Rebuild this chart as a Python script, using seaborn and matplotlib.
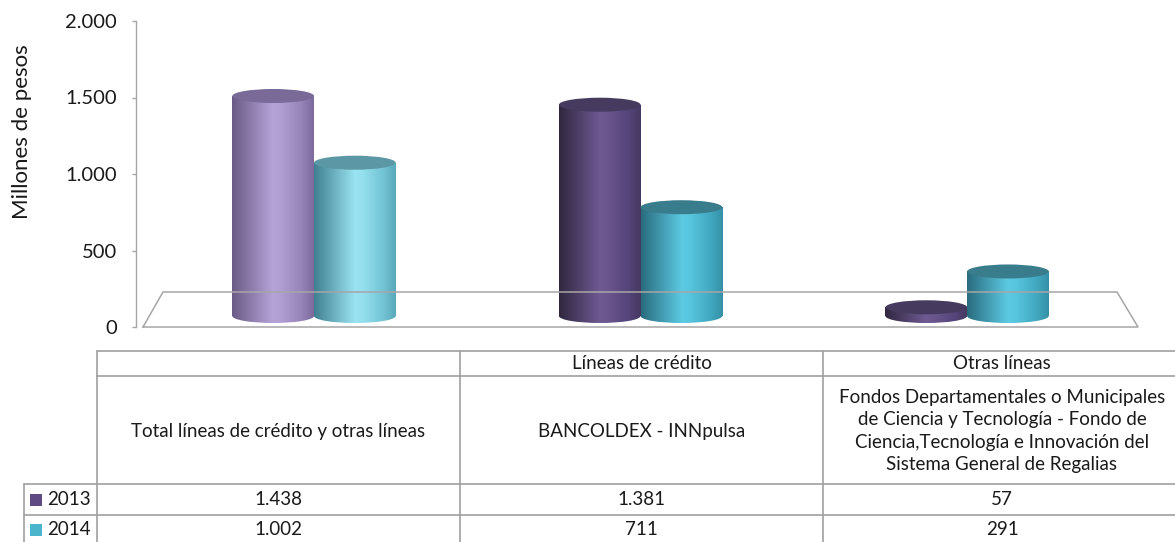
import numpy as np
import pandas as pd
import matplotlib
matplotlib.use("Agg")
import matplotlib.pyplot as plt
import matplotlib.colors as mcolors
import seaborn as sns
from matplotlib.patches import Rectangle, Ellipse
from matplotlib.lines import Line2D

# ---------------- data ----------------
categories = [
    "Total líneas de crédito y otras líneas",
    "BANCOLDEX - INNpulsa",
    "Fondos Departamentales o Municipales\nde Ciencia y Tecnología - Fondo de\nCiencia,Tecnología e Innovación del\nSistema General de Regalias",
]
groups = ["", "Líneas de crédito", "Otras líneas"]
years = ["2013", "2014"]
values_2013 = [1438, 1381, 57]
values_2014 = [1002, 711, 291]
yticks = [0, 500, 1000, 1500, 2000]
ylabel = "Millones de pesos"


def fmt(v):
    return f"{v:,}".replace(",", ".")


df = pd.DataFrame({
    "cat": list(range(len(categories))) * 2,
    "year": [years[0]] * 3 + [years[1]] * 3,
    "val": values_2013 + values_2014,
})

# ---------------- style ----------------
sns.set_theme(style="white")
plt.rcParams["font.family"] = ["Lato", "DejaVu Sans"]

W, H = 1175, 542
fig = plt.figure(figsize=(W / 100, H / 100), dpi=100)
fig.patch.set_facecolor("white")


def fx(x):
    return x / W


def fy(y):
    return 1 - y / H


GRAY = "#a6a6a6"
TXT = "#1a1a1a"
TFS = 13.5

# front axes (value axis)
axA = fig.add_axes([fx(136), fy(327), (1138 - 136) / W, 306 / H])
axA.set_ylim(0, 2000)
axA.set_xlim(0, 1)
axA.set_yticks(yticks)
axA.set_yticklabels([fmt(v) for v in yticks], fontsize=14.5, color=TXT)
axA.set_xticks([])
axA.tick_params(axis="y", length=3, width=1, color=GRAY, pad=10.5, left=True)
for s in ["top", "right", "bottom"]:
    axA.spines[s].set_visible(False)
axA.spines["left"].set_color(GRAY)
axA.spines["left"].set_linewidth(1)
axA.patch.set_alpha(0)
axA.set_ylabel(ylabel, fontsize=16, color=TXT)
axA.yaxis.set_label_coords(-0.104, 0.64)

# floor (3D base)
floor = [(143, 327), (1138, 327), (1117, 292), (163, 292), (143, 327)]
fig.add_artist(Line2D([fx(p[0]) for p in floor], [fy(p[1]) for p in floor],
                      transform=fig.transFigure, color=GRAY, lw=1.1))

# bars axes (shifted by depth)
s = 306 / 2000.0
ymin = -100
axB = fig.add_axes([fx(146), fy(316 - ymin * s), (1138 - 136) / W, (306 - ymin * s) / H])
axB.patch.set_alpha(0)
axB.axis("off")

pal = {"2013": "#5e4b82", "2014": "#4bb5cc"}
sns.barplot(data=df, x="cat", y="val", hue="year", palette=pal, width=0.5,
            order=[0, 1, 2], hue_order=years, ax=axB, legend=False, saturation=1)

# cylinder styles: [category-type][hue]
light = [
    dict(stops=[(0, "#6a5b86"), (0.5, "#b5a3d8"), (0.6, "#b09ed3"), (0.85, "#9684b9"), (1, "#7c6a9c")], top="#7a6a97"),
    dict(stops=[(0, "#3f7f90"), (0.5, "#9ae3f1"), (0.6, "#94dfee"), (0.85, "#72c3d4"), (1, "#5aa8ba")], top="#5b97a4"),
]
dark = [
    dict(stops=[(0, "#30273f"), (0.5, "#6f5a93"), (0.6, "#6a568c"), (0.85, "#54447a"), (1, "#463961")], top="#463a5e"),
    dict(stops=[(0, "#2a6b7e"), (0.5, "#5ccae2"), (0.6, "#57c5dd"), (0.85, "#41a8c0"), (1, "#3590a6")], top="#397c8b"),
]


def grad(stops, n=256):
    pos = [p for p, _ in stops]
    cols = np.array([mcolors.to_rgb(c) for _, c in stops])
    t = np.linspace(0, 1, n)
    arr = np.stack([np.interp(t, pos, cols[:, k]) for k in range(3)], axis=-1)
    return arr[None, :, :]


ell_h = 14 / s  # ellipse height in data units
bars = [p for p in axB.patches if isinstance(p, Rectangle) and p.get_width() > 0]
for p in bars:
    x0, w, h = p.get_x(), p.get_width(), p.get_height()
    xc = x0 + w / 2
    cat = int(round(xc))
    hue = 0 if xc < cat else 1
    style = (light if cat == 0 else dark)[hue]
    p.set_visible(False)
    img = grad(style["stops"])
    body = Rectangle((x0, 0), w, h, transform=axB.transData)
    im = axB.imshow(img, extent=(x0, x0 + w, 0, h), aspect="auto", zorder=2,
                    interpolation="bilinear")
    im.set_clip_path(body)
    base = Ellipse((xc, 0), w, ell_h, transform=axB.transData)
    im2 = axB.imshow(img, extent=(x0, x0 + w, -ell_h / 2, ell_h / 2), aspect="auto",
                     zorder=2, interpolation="bilinear")
    im2.set_clip_path(base)
    axB.add_patch(Ellipse((xc, h), w, ell_h, facecolor=style["top"], edgecolor="none", zorder=3))

axB.set_xlim(-0.5146, 2.554)
axB.set_ylim(ymin, 2000)

# ---------------- data table ----------------
TG = "#a0a0a0"


def hline(y, x0, x1):
    fig.add_artist(Line2D([fx(x0), fx(x1)], [fy(y), fy(y)], transform=fig.transFigure,
                          color=TG, lw=1.2))


def vline(x, y0, y1):
    fig.add_artist(Line2D([fx(x), fx(x)], [fy(y0), fy(y1)], transform=fig.transFigure,
                          color=TG, lw=1.2))


rows = [351, 376, 484, 515, 542]
cols = [24, 97, 460, 823, 1181]
hline(rows[0], cols[1], W)
hline(rows[1], cols[1], W)
hline(rows[2], cols[0], W)
hline(rows[3], cols[0], W)
vline(cols[0], rows[2], H)
for c in cols[1:4]:
    vline(c, rows[0], H)

centers = [(cols[i + 1] + cols[i + 2]) / 2 for i in range(3)]
for i in range(3):
    cx = centers[i]
    if groups[i]:
        fig.text(fx(cx), fy((rows[0] + rows[1]) / 2), groups[i], ha="center", va="center",
                 fontsize=TFS, color=TXT)
    fig.text(fx(cx), fy(431), categories[i], ha="center", va="center",
             fontsize=TFS, color=TXT, linespacing=1.38)
    fig.text(fx(cx), fy((rows[2] + rows[3]) / 2), fmt(values_2013[i]), ha="center", va="center",
             fontsize=TFS, color=TXT)
    fig.text(fx(cx), fy((rows[3] + 542 + 2) / 2), fmt(values_2014[i]), ha="center", va="center",
             fontsize=TFS, color=TXT)

# legend keys in table
for j, (yr, yc) in enumerate(zip(years, [(rows[2] + rows[3]) / 2, (rows[3] + 544) / 2])):
    fig.add_artist(Rectangle((fx(30), fy(yc + 6)), 12 / W, 12 / H, transform=fig.transFigure,
                             facecolor=pal[yr], edgecolor="none"))
    fig.text(fx(47), fy(yc), yr, ha="left", va="center", fontsize=TFS, color=TXT)

fig.savefig("out.png", dpi=100)
